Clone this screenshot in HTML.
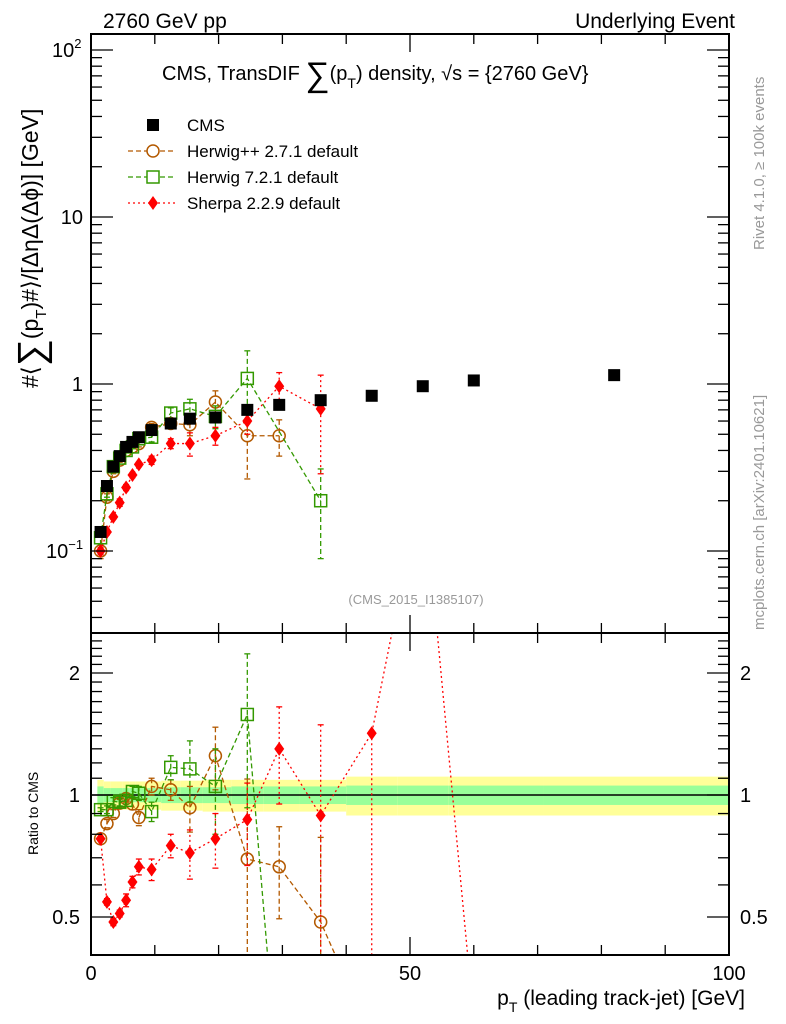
<!DOCTYPE html>
<html><head><meta charset="utf-8"><style>
html,body{margin:0;padding:0;background:#fff;width:786px;height:1024px;overflow:hidden}
svg{display:block;font-family:"Liberation Sans",Arial,sans-serif}
</style></head><body>
<svg id="c" width="786" height="1024" viewBox="0 0 786 1024" xmlns="http://www.w3.org/2000/svg">
<g id="g"></g>
<text x="103" y="28" font-size="21">2760 GeV pp</text>
<text x="735" y="28" font-size="21" text-anchor="end">Underlying Event</text>
<text x="162" y="80" font-size="20">CMS, TransDIF <tspan font-size="34" dy="6">∑</tspan><tspan dy="-6">(p</tspan><tspan font-size="14" dy="8">T</tspan><tspan dy="-8">) density, √s = {2760 GeV}</tspan></text>
<text x="416" y="604" font-size="13" fill="#999" text-anchor="middle">(CMS_2015_I1385107)</text>
<text transform="translate(764,250) rotate(-90)" font-size="15" fill="#999">Rivet 4.1.0, ≥ 100k events</text>
<text transform="translate(764,630) rotate(-90)" font-size="15" fill="#999">mcplots.cern.ch [arXiv:2401.10621]</text>
<text transform="translate(38,388) rotate(-90)" font-size="23">#⟨<tspan font-size="38" dy="6">∑</tspan><tspan dy="-6">(p</tspan><tspan font-size="15" dy="8">T</tspan><tspan dy="-8">)#⟩/[ΔηΔ(Δϕ)] [GeV]</tspan></text>
<text transform="translate(38,855) rotate(-90)" font-size="14">Ratio to CMS</text>
<text x="745" y="1005" font-size="21" text-anchor="end">p<tspan font-size="14" dy="7">T</tspan><tspan dy="-7"> (leading track-jet) [GeV]</tspan></text>
</svg>
<script>
const xCms=[1.5,2.5,3.5,4.5,5.5,6.5,7.5,9.5,12.5,15.5,19.5,24.5,29.5,36,44,52,60,82];
const yCms=[0.13,0.245,0.32,0.37,0.42,0.45,0.48,0.53,0.58,0.62,0.63,0.70,0.75,0.80,0.85,0.97,1.05,1.13];
const bandIn=[0.05,0.04,0.04,0.04,0.04,0.04,0.04,0.04,0.045,0.045,0.045,0.05,0.05,0.05,0.055,0.055,0.055,0.055];
const bandOut=[0.09,0.08,0.08,0.08,0.08,0.08,0.08,0.08,0.085,0.085,0.09,0.09,0.09,0.09,0.11,0.11,0.11,0.11];
const xHpp=[1.5,2.5,3.5,4.5,5.5,6.5,7.5,9.5,12.5,15.5,19.5,24.5,29.5];
const yHpp=[0.10,0.21,0.30,0.35,0.40,0.42,0.44,0.55,0.58,0.57,0.78,0.49,0.49];
const eHpp=[0.01,0.01,0.01,0.01,0.01,0.01,0.02,0.03,0.04,0.08,0.13,0.22,0.12];
const rxHpp=[1.5,2.5,3.5,4.5,5.5,6.5,7.5,9.5,12.5,15.5,19.5,24.5,29.5,36,40];
const rHpp=[0.78,0.85,0.90,0.955,0.98,0.95,0.88,1.05,1.03,0.93,1.25,0.695,0.665,0.486,0.35];
const reHpp=[0.01,0.02,0.02,0.02,0.02,0.03,0.04,0.05,0.06,0.12,0.22,0.4,0.17,0.3,0];
const xH7=[1.5,2.5,3.5,4.5,5.5,6.5,7.5,9.5,12.5,15.5,19.5,24.5,36];
const yH7=[0.12,0.22,0.32,0.36,0.40,0.42,0.47,0.48,0.67,0.71,0.64,1.08,0.20];
const eH7=[0.01,0.01,0.01,0.01,0.01,0.01,0.02,0.03,0.05,0.1,0.1,0.5,0.11];
const rxH7=[1.5,2.5,3.5,4.5,5.5,6.5,7.5,9.5,12.5,15.5,19.5,24.5,28];
const rH7=[0.92,0.92,0.965,0.96,0.97,1.02,1.01,0.91,1.17,1.16,1.05,1.58,0.35];
const reH7=[0.01,0.02,0.02,0.02,0.02,0.03,0.04,0.05,0.08,0.2,0.25,0.65,0];
const xShe=[1.5,2.5,3.5,4.5,5.5,6.5,7.5,9.5,12.5,15.5,19.5,24.5,29.5,36];
const yShe=[0.10,0.13,0.16,0.195,0.24,0.285,0.33,0.35,0.44,0.44,0.49,0.60,0.97,0.71];
const eShe=[0.005,0.005,0.005,0.01,0.01,0.01,0.01,0.02,0.03,0.07,0.06,0.1,0.2,0.42];
const rxShe=[1.5,2.5,3.5,4.5,5.5,6.5,7.5,9.5,12.5,15.5,19.5,24.5,29.5,36,44,52,60];
const rShe=[0.78,0.545,0.486,0.51,0.55,0.61,0.665,0.655,0.75,0.72,0.78,0.87,1.30,0.89,1.42,6,0.23];
const reShe=[0.01,0.01,0.01,0.01,0.02,0.02,0.03,0.04,0.05,0.1,0.12,0.2,0.35,0.6,0,0,0];
const xTicks=[0,50,100];
const xTickLabels=["0","50","100"];

const NS="http://www.w3.org/2000/svg";
const g=document.getElementById('g');
const L=91,R=729,T=34,B1=633,B2=955;
const X=v=>L+(v/100)*(R-L);
const Y=v=>384-167*Math.log10(v);
const RY=v=>795-122*Math.log2(v);
const C=p=>Math.max(0,Math.min(1020,p));
function el(tag,a,parent){const e=document.createElementNS(NS,tag);for(const k in a)e.setAttribute(k,a[k]);(parent||g).appendChild(e);return e;}
const cp1=el('clipPath',{id:'cp1'});el('rect',{x:L,y:T,width:R-L,height:B1-T},cp1);
const cp2=el('clipPath',{id:'cp2'});el('rect',{x:L,y:B1,width:R-L,height:B2-B1},cp2);

const bandG=el('g',{'clip-path':'url(#cp2)'});


for(let i=0;i<xCms.length;i++){
  const x0=i==0?X(1):X((xCms[i-1]+xCms[i])/2), x1=i==xCms.length-1?R:X((xCms[i]+xCms[i+1])/2);
  el('rect',{x:x0,y:RY(1+bandOut[i]),width:x1-x0,height:RY(1-bandOut[i])-RY(1+bandOut[i]),fill:'#ffff99'},bandG);
  el('rect',{x:x0,y:RY(1+bandIn[i]),width:x1-x0,height:RY(1-bandIn[i])-RY(1+bandIn[i]),fill:'#99ff99'},bandG);
}
el('line',{x1:L,x2:R,y1:RY(1),y2:RY(1),stroke:'#000','stroke-width':1.5});

function series(name,xs,ys,es,fy,clip,color,dash,marker){
  const sg=el('g',{'clip-path':clip});
  
  
  if(dash!==null){
    el('polyline',{points:xs.map((x,i)=>X(x)+','+C(fy(ys[i]))).join(' '),fill:'none',stroke:color,'stroke-width':1.3,'stroke-dasharray':dash},sg);
  }
  xs.forEach((x,i)=>{
    const px=X(x),py=C(fy(ys[i]));
    if(es&&es[i]>0){
      const lo=Math.max(ys[i]-es[i],0.001),hi=ys[i]+es[i];
      const yh=C(fy(hi)),yl=C(fy(lo));
      el('line',{x1:px,x2:px,y1:yh,y2:yl,stroke:color,'stroke-width':1.3,'stroke-dasharray':dash||'none'},sg);
      el('line',{x1:px-3,x2:px+3,y1:yh,y2:yh,stroke:color,'stroke-width':1.3},sg);
      el('line',{x1:px-3,x2:px+3,y1:yl,y2:yl,stroke:color,'stroke-width':1.3},sg);
    }
    let m;
    if(marker=='sq') m=el('rect',{x:px-6,y:py-6,width:12,height:12,fill:'#000'},sg);
    else if(marker=='circ') m=el('circle',{cx:px,cy:py,r:6,fill:'none',stroke:color,'stroke-width':1.5},sg);
    else if(marker=='osq') m=el('rect',{x:px-6,y:py-6,width:12,height:12,fill:'none',stroke:color,'stroke-width':1.5},sg);
    else m=el('polygon',{points:`${px},${py-7} ${px+5},${py} ${px},${py+7} ${px-5},${py}`,fill:color},sg);
    
    
  });
}
series('herwigpp-series',xHpp,yHpp,eHpp,Y,'url(#cp1)','#b35900','5,3','circ');
series('herwig7-series',xH7,yH7,eH7,Y,'url(#cp1)','#339900','5,3','osq');
series('sherpa-series',xShe,yShe,eShe,Y,'url(#cp1)','#ff0000','2,3','dia');
series('cms-series',xCms,yCms,null,Y,'url(#cp1)','#000',null,'sq');
series('herwigpp-ratio',rxHpp,rHpp,reHpp,RY,'url(#cp2)','#b35900','5,3','circ');
series('herwig7-ratio',rxH7,rH7,reH7,RY,'url(#cp2)','#339900','5,3','osq');
series('sherpa-ratio',rxShe,rShe,reShe,RY,'url(#cp2)','#ff0000','2,3','dia');
el('line',{x1:X(44),x2:X(44),y1:RY(1.42),y2:B2,stroke:'#ff0000','stroke-width':1.3,'stroke-dasharray':'2,3'});
const f1=el('rect',{x:L,y:T,width:R-L,height:B1-T,fill:'none',stroke:'#000','stroke-width':2});

const f2=el('rect',{x:L,y:B1,width:R-L,height:B2-B1,fill:'none',stroke:'#000','stroke-width':2});

for(let v=0;v<=100;v+=10){
  const big=v%50==0; const px=X(v); const len=big?18:10;
  [[T,1],[B1,-1],[B1,1],[B2,-1]].forEach(([y,d])=>el('line',{x1:px,x2:px,y1:y,y2:y+d*len,stroke:'#000','stroke-width':1.3}));
}
xTicks.forEach((v,i)=>{const t=el('text',{x:X(v),y:980,'font-size':20,'text-anchor':'middle'});t.textContent=xTickLabels[i];
});
for(let d=-2;d<=2;d++)for(let m=1;m<10;m++){const v=m*Math.pow(10,d);const py=Y(v);if(py<T||py>B1)continue;
  const len=m==1?22:11;el('line',{x1:L,x2:L+len,y1:py,y2:py,stroke:'#000','stroke-width':1.3});el('line',{x1:R,x2:R-len,y1:py,y2:py,stroke:'#000','stroke-width':1.3});}
[[100,'10','2'],[10,'10',''],[1,'1',''],[0.1,'10','−1']].forEach(([v,b,e])=>{const t=el('text',{x:83,y:Y(v)+7,'font-size':20,'text-anchor':'end'});t.textContent=b;
 if(e){const s=el('tspan',{'font-size':13,dy:-9},t);s.textContent=e;t.setAttribute('text-anchor','start');t.setAttribute('x',e=='2'?52:46);}
 });
for(let v=0.4;v<=2.5;v+=0.1){const py=RY(v);if(py<B1||py>B2)continue;const maj=Math.abs(v-0.5)<1e-6||Math.abs(v-1)<1e-6||Math.abs(v-2)<1e-6;
 const len=maj?22:11;el('line',{x1:L,x2:L+len,y1:py,y2:py,stroke:'#000','stroke-width':1.3});el('line',{x1:R,x2:R-len,y1:py,y2:py,stroke:'#000','stroke-width':1.3});}
[[2,'2'],[1,'1'],[0.5,'0.5']].forEach(([v,s])=>{
 const a=el('text',{x:80,y:RY(v)+7,'font-size':20,'text-anchor':'end'});a.textContent=s;
 const b=el('text',{x:740,y:RY(v)+7,'font-size':20});b.textContent=s;});
const leg=[['CMS','#000',null,'sq'],['Herwig++ 2.7.1 default','#b35900','5,3','circ'],['Herwig 7.2.1 default','#339900','5,3','osq'],['Sherpa 2.2.9 default','#ff0000','2,3','dia']];
leg.forEach((l,i)=>{const y=125+i*26;const lg=el('g',{});
 if(l[2])el('line',{x1:128,x2:175,y1:y,y2:y,stroke:l[1],'stroke-width':1.3,'stroke-dasharray':l[2]},lg);
 const px=153,py=y;
 if(l[3]=='sq')el('rect',{x:px-6,y:py-6,width:12,height:12,fill:'#000'},lg);
 else if(l[3]=='circ')el('circle',{cx:px,cy:py,r:6,fill:'#fff',stroke:l[1],'stroke-width':1.5},lg);
 else if(l[3]=='osq')el('rect',{x:px-6,y:py-6,width:12,height:12,fill:'#fff',stroke:l[1],'stroke-width':1.5},lg);
 else el('polygon',{points:`${px},${py-7} ${px+5},${py} ${px},${py+7} ${px-5},${py}`,fill:l[1]},lg);
 const t=el('text',{x:187,y:y+6,'font-size':17},lg);t.textContent=l[0];});
</script>
</body></html>
